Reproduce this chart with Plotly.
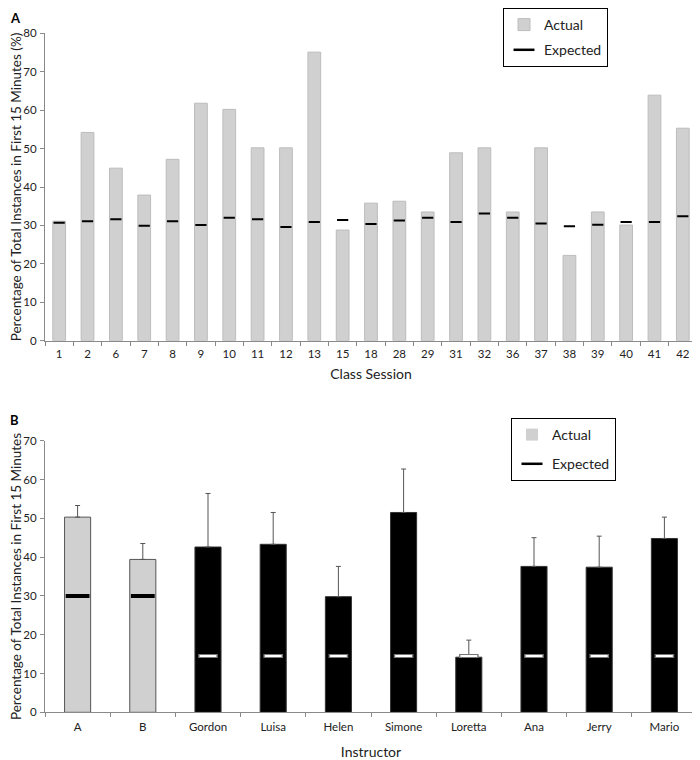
import plotly.graph_objects as go

# ---------------- Panel A data ----------------
sessions = ["1", "2", "6", "7", "8", "9", "10", "11", "12", "13", "15", "18",
            "28", "29", "31", "32", "36", "37", "38", "39", "40", "41", "42"]
actual_a = [31.1, 54.2, 44.9, 37.9, 47.2, 61.8, 60.2, 50.2, 50.2, 75.1, 28.8, 35.8,
            36.3, 33.5, 48.9, 50.2, 33.5, 50.2, 22.2, 33.5, 30.1, 63.9, 55.3]
expected_a = [30.7, 31.1, 31.6, 29.9, 31.1, 30.1, 32.0, 31.6, 29.6, 30.9, 31.4, 30.4,
              31.3, 32.0, 30.9, 33.1, 32.0, 30.5, 29.8, 30.2, 30.9, 30.9, 32.4]

# ---------------- Panel B data ----------------
instructors = ["A", "B", "Gordon", "Luisa", "Helen", "Simone", "Loretta", "Ana", "Jerry", "Mario"]
actual_b = [50.3, 39.4, 42.6, 43.3, 29.8, 51.5, 14.2, 37.6, 37.4, 44.8]
error_b = [3.0, 4.1, 13.8, 8.2, 7.8, 11.2, 4.4, 7.4, 8.0, 5.5]
expected_b = [30.0, 30.0, 14.5, 14.5, 14.5, 14.5, 14.5, 14.5, 14.5, 14.5]
group_names = ["A", "B"]

FONT = "Lato"
GREY = "#d0d0d0"
AXIS = "#8a8a8a"

# page offset (browser body margin) and figure size
OFF = 8
W, H = 692, 752


def fx(px):
    return (px - OFF) / W


def fy(py):
    return 1 - (py - OFF) / H


is_group = [n in group_names for n in instructors]
grp_x = [n for n, g in zip(instructors, is_group) if g]
grp_exp = [e for e, g in zip(expected_b, is_group) if g]
ind_x = [n for n, g in zip(instructors, is_group) if not g]
ind_exp = [e for e, g in zip(expected_b, is_group) if not g]

fig = go.Figure()

# Panel A
fig.add_trace(go.Bar(x=sessions, y=actual_a, width=0.45, name="Actual",
                     marker=dict(color=GREY, line=dict(color="#bcbcbc", width=1)),
                     xaxis="x", yaxis="y", legend="legend", legendgroup="a1"))
fig.add_trace(go.Scatter(x=sessions, y=expected_a, mode="markers", showlegend=False,
                         marker=dict(symbol="line-ew", size=8,
                                     line=dict(color="black", width=2)),
                         xaxis="x", yaxis="y"))
fig.add_trace(go.Scatter(x=[sessions[0]], y=[None], mode="markers", name="Expected",
                         marker=dict(symbol="line-ew", size=15,
                                     line=dict(color="black", width=2.5)),
                         xaxis="x", yaxis="y", legend="legend", legendgroup="a2"))

# Panel B
bar_colors = [GREY if g else "black" for g in is_group]
bar_lines = ["#555555" if g else "#333333" for g in is_group]
fig.add_trace(go.Bar(x=instructors, y=actual_b, width=0.4, name="Actual",
                     marker=dict(color=bar_colors, line=dict(color=bar_lines, width=1)),
                     error_y=dict(type="data", array=error_b, arrayminus=[0] * len(error_b),
                                  symmetric=False, color="#555555", thickness=1, width=2.5),
                     xaxis="x2", yaxis="y2", showlegend=False))
fig.add_trace(go.Scatter(x=grp_x, y=grp_exp, mode="markers", showlegend=False,
                         marker=dict(symbol="line-ew", size=17,
                                     line=dict(color="black", width=4)),
                         xaxis="x2", yaxis="y2"))
fig.add_trace(go.Scatter(x=ind_x, y=ind_exp, mode="markers", showlegend=False,
                         marker=dict(symbol="line-ew", size=14,
                                     line=dict(color="#777777", width=4)),
                         xaxis="x2", yaxis="y2"))
fig.add_trace(go.Scatter(x=ind_x, y=ind_exp, mode="markers", showlegend=False,
                         marker=dict(symbol="line-ew", size=12,
                                     line=dict(color="white", width=2)),
                         xaxis="x2", yaxis="y2"))
fig.add_trace(go.Bar(x=[instructors[0]], y=[None], name="Actual",
                     marker=dict(color=GREY, line=dict(color=GREY, width=0)),
                     xaxis="x2", yaxis="y2", legend="legend2", legendgroup="b1"))
fig.add_trace(go.Scatter(x=[instructors[0]], y=[None], mode="markers", name="Expected",
                         marker=dict(symbol="line-ew", size=15,
                                     line=dict(color="black", width=2.5)),
                         xaxis="x2", yaxis="y2", legend="legend2", legendgroup="b2"))

axis_common = dict(showline=True, linecolor=AXIS, linewidth=1, showgrid=False,
                   zeroline=False, ticks="outside", ticklen=4, tickcolor=AXIS,
                   automargin=False,
                   tickfont=dict(family=FONT, size=11.5, color="#222"))
xaxis_common = dict(axis_common, ticklabelstandoff=2)
yaxis_common = dict(axis_common, ticklabelstandoff=1)

legend_common = dict(xanchor="left", yanchor="top",
                     bordercolor="black", borderwidth=1, bgcolor="white",
                     font=dict(family=FONT, size=14, color="#222"), traceorder="grouped",
                     itemwidth=30)

LEFT, RIGHT = 45, 697

fig.update_layout(
    width=W, height=H,
    margin=dict(l=0, r=0, t=0, b=0, autoexpand=False),
    paper_bgcolor="white", plot_bgcolor="white",
    font=dict(family=FONT, color="#222"),
    barmode="overlay",
    xaxis=dict(domain=[fx(LEFT), fx(RIGHT)], anchor="y", type="category",
               range=[-0.5, len(sessions) - 0.5], tickson="boundaries",
               title=dict(text="Class Session", font=dict(family=FONT, size=14), standoff=10),
               **xaxis_common),
    yaxis=dict(domain=[fy(340.7), fy(33.3)], anchor="x", range=[0, 80], dtick=10,
               title=dict(text="Percentage of Total Instances in First 15 Minutes (%)",
                          font=dict(family=FONT, size=13.5), standoff=2),
               **yaxis_common),
    xaxis2=dict(domain=[fx(LEFT), fx(RIGHT)], anchor="y2", type="category",
                range=[-0.5, len(instructors) - 0.5], tickson="boundaries",
                title=dict(text="Instructor", font=dict(family=FONT, size=14), standoff=17),
                **dict(axis_common, ticklabelstandoff=4)),
    yaxis2=dict(domain=[fy(712.3), fy(440.7)], anchor="x2", range=[0, 70], dtick=10,
                title=dict(text="Percentage of Total Instances in First 15 Minutes",
                           font=dict(family=FONT, size=13.5), standoff=2),
                **yaxis_common),
    legend=dict(x=fx(503), y=1.0, tracegroupgap=4, **legend_common),
    legend2=dict(x=fx(511), y=fy(418), tracegroupgap=8, **legend_common),
    annotations=[
        dict(text="<b>A</b>", x=0, y=1.0, xref="paper", yref="paper",
             xanchor="left", yanchor="top", showarrow=False,
             font=dict(family=FONT, size=13, color="black")),
        dict(text="<b>B</b>", x=0, y=fy(410), xref="paper", yref="paper",
             xanchor="left", yanchor="top", showarrow=False,
             font=dict(family=FONT, size=13, color="black")),
    ],
)

fig.write_html("out.html")
